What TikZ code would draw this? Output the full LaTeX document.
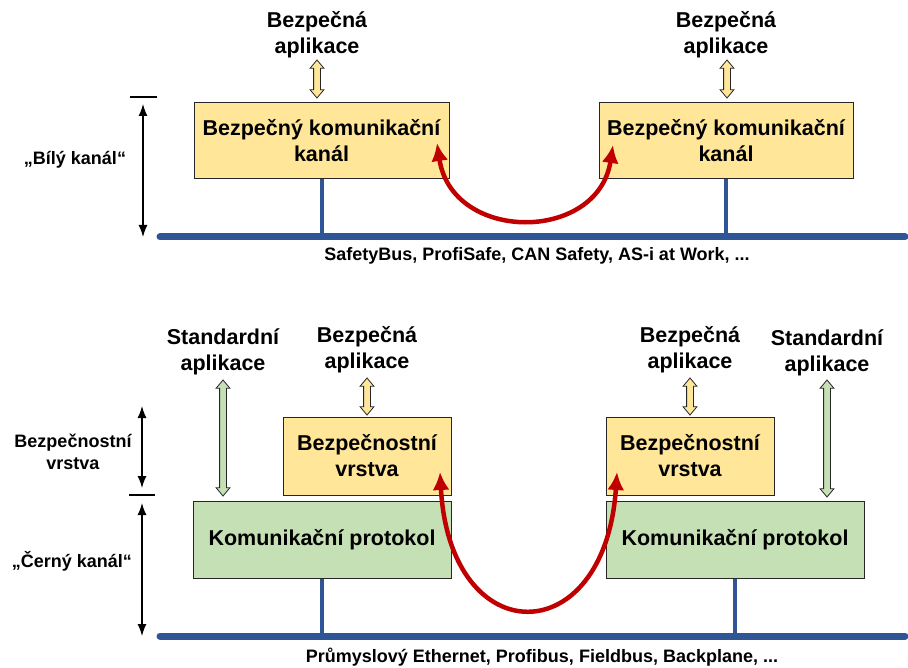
\documentclass[tikz,border=0pt]{standalone}
\usepackage{fontspec}
\setmainfont{Liberation Sans}
\usepackage{tikz}
\usetikzlibrary{shapes,arrows,arrows.meta,positioning}
\definecolor{safeyellow}{RGB}{255, 230, 153}
\definecolor{protgreen}{RGB}{197, 224, 180}
\definecolor{busblue}{RGB}{47, 85, 151}
\definecolor{arcred}{RGB}{192, 0, 0}
\tikzstyle{safebox} = [rectangle, draw=black!85, line width=1pt, fill=safeyellow, text=black, align=center, font=\bfseries\fontsize{21.5}{26}\selectfont, minimum height=76pt]
\tikzstyle{protobox} = [rectangle, draw=black!85, line width=1pt, fill=protgreen, text=black, align=center, font=\bfseries\fontsize{21.5}{26}\selectfont, minimum height=77pt, minimum width=258pt]
\tikzstyle{apptext} = [draw=none, fill=none, align=center, font=\bfseries\fontsize{21.5}{26}\selectfont]
\tikzstyle{sidetext} = [draw=none, fill=none, align=center, font=\bfseries\fontsize{18}{22}\selectfont]
\tikzstyle{busline} = [draw=busblue, line width=7pt, line cap=round]
\tikzstyle{stemline} = [draw=busblue, line width=4pt]
\tikzstyle{safearc} = [draw=arcred, line width=4.5pt, {Latex[length=18pt,width=17pt]}-{Latex[length=18pt,width=17pt]}]
\tikzstyle{heightarrow} = [draw, line width=1.3pt, {Latex[length=12pt,width=9pt]}-{Latex[length=12pt,width=9pt]}]
\tikzstyle{dblarrow} = [double arrow, draw=black!85, line width=0.8pt, rotate=90, inner sep=3pt, double arrow head extend=3.5pt, double arrow tip angle=80]

\begin{document}
\begin{tikzpicture}[x=1pt, y=-1pt]
\useasboundingbox (0,0) rectangle (908,668);

% white channel ===========================
\node[safebox, minimum width=255pt] (chanL) at (321.5,141) {Bezpečný komunikační\\kanál};
\node[safebox, minimum width=254pt] (chanR) at (726,141) {Bezpečný komunikační\\kanál};
\node[apptext] (appTL) at (317,35) {Bezpečná\\aplikace};
\node[apptext] (appTR) at (726,35) {Bezpečná\\aplikace};
\node[dblarrow, fill=safeyellow, minimum height=38pt] (dTL) at (317,79) {};
\node[dblarrow, fill=safeyellow, minimum height=38pt] (dTR) at (727,79) {};

\coordinate (busTa) at (160,237);
\coordinate (busTb) at (905,237);
\path[busline] (busTa) -- (busTb);
\path[stemline] (chanL.south) -- (chanL.south |- busTa);
\path[stemline] (chanR.south) -- (chanR.south |- busTa);
\node[sidetext] (busTtext) at (537,256) {SafetyBus, ProfiSafe, CAN Safety, AS-i at Work, ...};

\coordinate (arcTL) at (437,143);
\coordinate (arcTR) at (613,145);
\path[safearc] (arcTL) .. controls (452,243) and (598,243) .. (arcTR);

% black channel ===========================
\node[protobox] (protL) at (322,539.5) {Komunikační protokol};
\node[protobox] (protR) at (735,539.5) {Komunikační protokol};
\node[safebox, minimum width=168pt, minimum height=78pt] (layL) at (367,456) {Bezpečnostní\\vrstva};
\node[safebox, minimum width=168pt, minimum height=78pt] (layR) at (690,456) {Bezpečnostní\\vrstva};

\node[apptext] (stdL) at (223,352) {Standardní\\aplikace};
\node[apptext] (stdR) at (827,353) {Standardní\\aplikace};
\node[apptext] (appBL) at (367,350) {Bezpečná\\aplikace};
\node[apptext] (appBR) at (690,350) {Bezpečná\\aplikace};
\node[dblarrow, fill=protgreen, minimum height=116pt] (dSL) at (223,438) {};
\node[dblarrow, fill=protgreen, minimum height=117pt] (dSR) at (827,438.5) {};
\node[dblarrow, fill=safeyellow, minimum height=37pt] (dBL) at (367,396.5) {};
\node[dblarrow, fill=safeyellow, minimum height=37pt] (dBR) at (690,396.5) {};

\coordinate (busBa) at (160,636);
\coordinate (busBb) at (905,636);
\path[busline] (busBa) -- (busBb);
\path[stemline] (protL.south) -- (protL.south |- busBa);
\path[stemline] (protR.south) -- (protR.south |- busBa);
\node[sidetext] (busBtext) at (542,657) {Průmyslový Ethernet, Profibus, Fieldbus, Backplane, ...};

\coordinate (arcBL) at (440,472);
\coordinate (arcBR) at (617,472);
\path[safearc] (arcBL) .. controls (450,653) and (605,653) .. (arcBR);

% side marks ==============================
\node[sidetext] (white) at (75,160) {„Bílý kanál“};
\node[sidetext] (layer) at (73,452) {Bezpečnostní\\vrstva};
\node[sidetext] (black) at (72,561) {„Černý kanál“};

\coordinate (tickT) at (143,97);
\coordinate (tickB) at (142,495);
\draw[line width=1.5pt] ([xshift=-13pt]tickT) -- ([xshift=14pt]tickT);
\draw[line width=1.5pt] ([xshift=-13pt]tickB) -- ([xshift=13pt]tickB);
\path[heightarrow] ([yshift=-7pt]tickT) -- (tickT |- busTa);
\path[heightarrow] (142,406) -- ([yshift=7pt]tickB);
\path[heightarrow] ([yshift=-8pt]tickB) -- (tickB |- busBa);

\end{tikzpicture}
\end{document}
